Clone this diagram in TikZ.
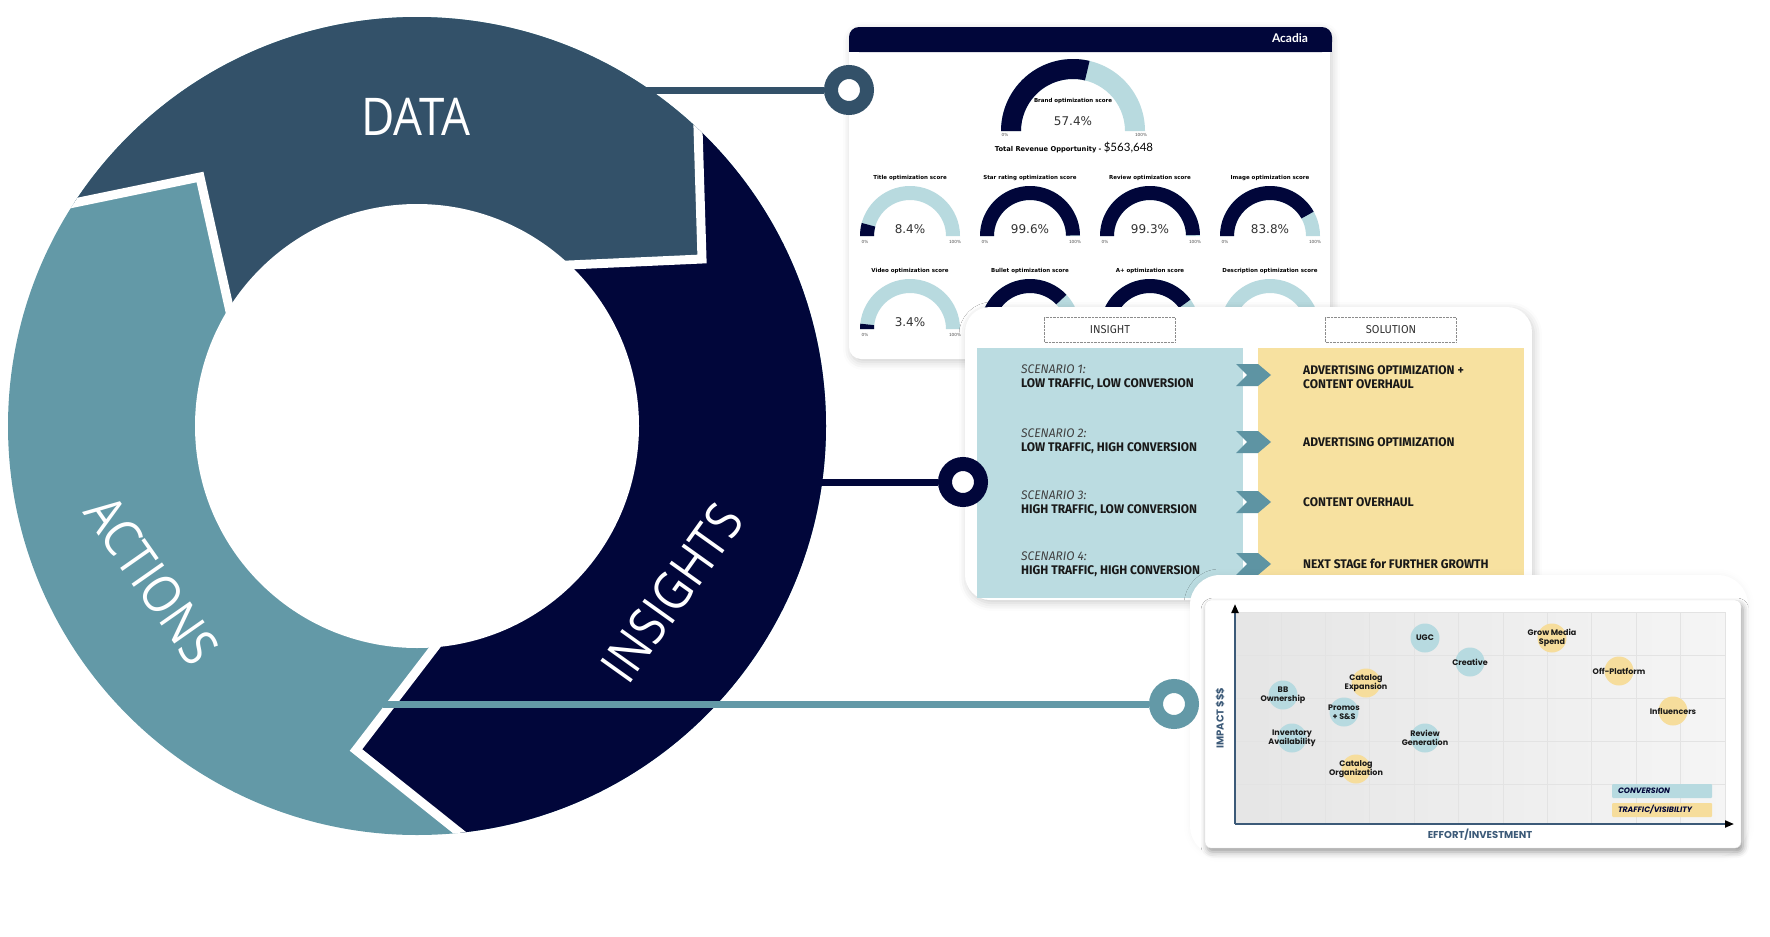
\documentclass[tikz,border=0pt]{standalone}
\usepackage{fontspec}
\setmainfont{DejaVu Sans}
\newfontfamily\ringfont[FakeStretch=0.88]{Open Sans}
\newfontfamily\panelfont[FakeStretch=0.96]{Fira Sans}
\newfontfamily\chartfont{Poppins}
\newfontfamily\moneyfont{Lato}
\usetikzlibrary{calc,shadows.blur,arrows.meta}

\definecolor{datablue}{HTML}{335169}
\definecolor{insightnavy}{HTML}{01063A}
\definecolor{actionteal}{HTML}{6399A7}
\definecolor{gaugelight}{HTML}{B8DADF}
\definecolor{convblue}{HTML}{B7DAE0}
\definecolor{trafficyellow}{HTML}{F6DD9C}
\definecolor{insightbox}{HTML}{BBDCE1}
\definecolor{solutionbox}{HTML}{F7E1A0}
\definecolor{chevron}{HTML}{5E94A3}
\definecolor{axisslate}{HTML}{3C5A78}

\def\ringR{409}
\def\holeR{222}

\begin{document}
\begin{tikzpicture}[x=1pt,y=1pt]
    \tikzstyle{gapline}=[white,line width=9pt,line join=miter]
    \tikzstyle{ringlabel}=[text=white,inner sep=0pt,font=\ringfont\fontsize{52}{60}\selectfont]
    \tikzstyle{hub}=[circle,line width=14pt,fill=white,minimum size=36pt,inner sep=0pt]
    \tikzstyle{link}=[line width=7pt]
    \tikzstyle{panel}=[white,blur shadow={shadow xshift=2pt,shadow yshift=-3pt,shadow blur radius=8pt,shadow opacity=20}]
    \tikzstyle{scoretitle}=[inner sep=0pt,font=\bfseries\fontsize{5.5}{6}\selectfont]
    \tikzstyle{scorevalue}=[inner sep=0pt,text=black!80,font=\fontsize{12}{13}\selectfont]
    \tikzstyle{scoreend}=[inner sep=0pt,text=black!70,font=\fontsize{4.2}{5}\selectfont]
    \tikzstyle{hdrbox}=[draw=black!45,densely dotted,minimum width=131pt,minimum height=25pt,text=black!80,font=\panelfont\fontsize{11.5}{13}\selectfont]
    \tikzstyle{scenario}=[anchor=west,align=left,inner sep=0pt,text=black!90,font=\panelfont\fontsize{12.5}{14}\selectfont]
    \tikzstyle{solution}=[scenario,font=\panelfont\bfseries\fontsize{12.5}{14}\selectfont]
    \tikzstyle{gridline}=[black!11,line width=1pt]
    \tikzstyle{axisline}=[axisslate,line width=2pt,-{Triangle[length=9pt,width=7pt,color=black]}]
    \tikzstyle{bubble}=[circle,minimum size=29pt,inner sep=0pt]
    \tikzstyle{bubbletext}=[align=center,inner sep=0pt,text=black!90,font=\chartfont\bfseries\fontsize{8}{9.5}\selectfont]
    \tikzstyle{legendkey}=[minimum width=100pt,minimum height=14pt,text width=88pt,align=left,inner xsep=6pt,inner ysep=0pt,rounded corners=1pt,text=insightnavy,font=\chartfont\bfseries\itshape\fontsize{7.8}{8}\selectfont]
    \tikzstyle{axislabel}=[inner sep=0pt,text=axisslate,font=\chartfont\bfseries\fontsize{10}{11}\selectfont]

    \useasboundingbox (0,0) rectangle (1770,-937);

    % Draw the ring segments.
    \coordinate (O) at (417,-426);
    \coordinate (P1) at (74,-203);
    \coordinate (C1) at (200,-177);
    \coordinate (P2) at (229,-307);
    \coordinate (Q1) at (698,-128);
    \coordinate (C2) at (702,-259);
    \coordinate (Q2) at (569,-265);
    \coordinate (S1) at (435,-647);
    \coordinate (C3) at (356,-750);
    \coordinate (S2) at (460,-833);
    \begin{scope}
        \clip (O) circle[radius=\ringR];
        \fill[actionteal] (O) circle[radius=430];
        \fill[datablue] (O) -- (P2) -- (C1) -- (P1) -- (0,-218) -- (0,20) -- (697,20)
            -- (696,-60) -- (Q1) -- (C2) -- (Q2) -- cycle;
        \fill[insightnavy] (O) -- (Q2) -- (C2) -- (Q1) -- (696,-60) -- (900,-60) -- (900,-937)
            -- (522,-883) -- (S2) -- (C3) -- (S1) -- cycle;
        \draw[gapline] ($(C1)!1.2!(P1)$) -- (C1) -- ($(C1)!1.2!(P2)$);
        \draw[gapline] ($(C2)!1.2!(Q1)$) -- (C2) -- ($(C2)!1.2!(Q2)$);
        \draw[gapline] ($(C3)!1.2!(S1)$) -- (C3) -- ($(C3)!1.2!(S2)$);
    \end{scope}
    \fill[white] (O) circle[radius=\holeR];

    % Label the segments.
    \node[ringlabel] (datalabel) at (416,-117) {DATA};
    \node[ringlabel,rotate=-55] (actionslabel) at (152,-580) {ACTIONS};
    \node[ringlabel,rotate=54.5] (insightslabel) at (672,-593) {INSIGHTS};

    % Draw the score dashboard.
    \fill[panel,rounded corners=12pt] (849,-27) rectangle (1330,-359);
    \fill[insightnavy,rounded corners=10pt] (849,-27) rectangle (1332,-52);
    \fill[insightnavy] (849,-40) rectangle (1332,-52);
    \node[text=white,font=\moneyfont\bfseries\fontsize{12}{14}\selectfont] (brand) at (1290,-38) {Acadia};

    \fill[gaugelight] (1001,-131) arc[start angle=180,end angle=0,radius=72] -- ++(-20,0)
        arc[start angle=0,end angle=180,radius=52] -- cycle;
    \fill[insightnavy] (1001,-131) arc[start angle=180,end angle=76.7,radius=72] -- ++(76.7:-20)
        arc[start angle=76.7,end angle=180,radius=52] -- cycle;
    \node[scoretitle] (brandtitle) at (1073,-101) {Brand optimization score};
    \node[scorevalue] (brandvalue) at (1073,-121) {57.4\%};
    \node[scoreend] (brandmin) at (1005,-135) {0\%};
    \node[scoreend] (brandmax) at (1141,-135) {100\%};
    \node[inner sep=0pt] (revenue) at (1074,-148)
        {{\bfseries\fontsize{6.7}{7}\selectfont Total Revenue Opportunity - }{\moneyfont\fontsize{11.5}{12}\selectfont\$563,648}};

    \foreach \gx/\gy/\gv in {910/236/8.4,1030/236/99.6,1150/236/99.3,1270/236/83.8,
                              910/329/3.4,1030/329/76,1150/329/80,1270/329/1}
    {
        \fill[gaugelight] (\gx-50,-\gy) arc[start angle=180,end angle=0,radius=50] -- ++(-14,0)
            arc[start angle=0,end angle=180,radius=36] -- cycle;
        \fill[insightnavy] (\gx-50,-\gy) arc[start angle=180,end angle={180-1.8*\gv},radius=50]
            -- ++({180-1.8*\gv}:-14) arc[start angle={180-1.8*\gv},end angle=180,radius=36] -- cycle;
    }
    \foreach \gx/\gy/\gt [count=\i] in {910/178/Title,1030/178/Star rating,1150/178/Review,1270/178/Image,
                                         910/271/Video,1030/271/Bullet,1150/271/A+,1270/271/Description}
        \node[scoretitle] (title-\i) at (\gx,-\gy) {\gt{} optimization score};
    \foreach \gx/\gy/\gp [count=\i] in {910/236/8.4,1030/236/99.6,1150/236/99.3,1270/236/83.8,910/329/3.4}
    {
        \node[scorevalue] (value-\i) at (\gx,-\gy+7) {\gp\%};
        \node[scoreend] (min-\i) at (\gx-45,-\gy-6) {0\%};
        \node[scoreend] (max-\i) at (\gx+45,-\gy-6) {100\%};
    }

    % Draw the insight / solution table.
    \fill[panel,rounded corners=25pt] (965,-307) rectangle (1532,-600);
    \node[hdrbox] (insighthdr) at (1110,-330) {INSIGHT};
    \node[hdrbox] (solutionhdr) at (1391,-330) {SOLUTION};
    \fill[insightbox] (977,-348) rectangle (1243,-598);
    \fill[solutionbox] (1258,-348) rectangle (1524,-598);
    \foreach \y/\n/\t in {377/1/{LOW TRAFFIC, LOW CONVERSION},441.5/2/{LOW TRAFFIC, HIGH CONVERSION},
                          503.5/3/{HIGH TRAFFIC, LOW CONVERSION},564.5/4/{HIGH TRAFFIC, HIGH CONVERSION}}
        \node[scenario] (scen-\n) at (1021,-\y) {{\itshape\color{black!75}SCENARIO \n:}\\\textbf{\t}};
    \foreach \y in {375,442,502,564}
        \fill[chevron] (1236,-\y+11) -- (1258,-\y+11) -- (1271,-\y) -- (1258,-\y-11)
            -- (1236,-\y-11) -- (1247,-\y) -- cycle;
    \node[solution] (sol-1) at (1303,-377) {ADVERTISING OPTIMIZATION +\\CONTENT OVERHAUL};
    \node[solution] (sol-2) at (1303,-442) {ADVERTISING OPTIMIZATION};
    \node[solution] (sol-3) at (1303,-502) {CONTENT OVERHAUL};
    \node[solution] (sol-4) at (1303,-564) {NEXT STAGE for FURTHER GROWTH};

    % Draw the impact chart.
    \fill[white,blur shadow={shadow xshift=0pt,shadow yshift=0pt,shadow blur radius=6pt,shadow opacity=5},
        rounded corners=30pt] (1190,-575) rectangle (1748,-856);
    \filldraw[white,draw=black!12,blur shadow={shadow xshift=2pt,shadow yshift=-4pt,shadow blur radius=6pt,shadow opacity=40},
        rounded corners=6pt] (1205,-600) rectangle (1741,-848);
    \fill[left color=black!10,right color=black!4] (1236,-612) rectangle (1725,-824);
    \foreach \i in {0,...,10}
        \draw[gridline] ({1281+44.4*\i},-612) -- ++(0,-212);
    \foreach \j in {0,...,4}
        \draw[gridline] (1236,{-612-43*\j}) -- ++(489,0);
    \coordinate (origin) at (1235,-824);
    \coordinate (ytip) at (1235,-604);
    \coordinate (xtip) at (1734,-824);
    \draw[axisline] (origin) -- (ytip);
    \draw[axisline] (origin) -- (xtip);
    \node[axislabel,rotate=90] (ylabel) at (1220,-718) {IMPACT \$\$\$};
    \node[axislabel] (xlabel) at (1480,-835) {EFFORT/INVESTMENT};

    \foreach \bx/\by/\bc/\bt [count=\i] in {1425/638/convblue/UGC,1470/662/convblue/Creative,
            1552/638/trafficyellow/{Grow Media\\Spend},1619/671/trafficyellow/Off-Platform,
            1673/711/trafficyellow/Influencers,1366/683/trafficyellow/{Catalog\\Expansion},
            1283/695/convblue/{BB\\Ownership},1344/712/convblue/{Promos\\+ S\&S},
            1292/738/convblue/{Inventory\\Availability},1425/738/convblue/{Review\\Generation},
            1356/769/trafficyellow/{Catalog\\Organization}}
        \node[bubble,fill=\bc,label={[bubbletext]center:\bt}] (bubble-\i) at (\bx,-\by) {};

    \node[legendkey,fill=convblue] (convkey) at (1662,-791) {CONVERSION};
    \node[legendkey,fill=trafficyellow] (trafkey) at (1662,-810) {TRAFFIC/VISIBILITY};

    % Connect the ring with the panels.
    \coordinate (dataport) at (600,-90);
    \coordinate (insightport) at (800,-482);
    \coordinate (actionport) at (383,-704);
    \node[hub,draw=datablue] (datahub) at (849,-90) {};
    \node[hub,draw=insightnavy] (insighthub) at (963,-482) {};
    \node[hub,draw=actionteal] (actionhub) at (1174,-704) {};
    \draw[link,datablue] (dataport) -- (datahub);
    \draw[link,insightnavy] (insightport) -- (insighthub);
    \draw[link,actionteal] (actionport) -- (actionhub);
\end{tikzpicture}
\end{document}
